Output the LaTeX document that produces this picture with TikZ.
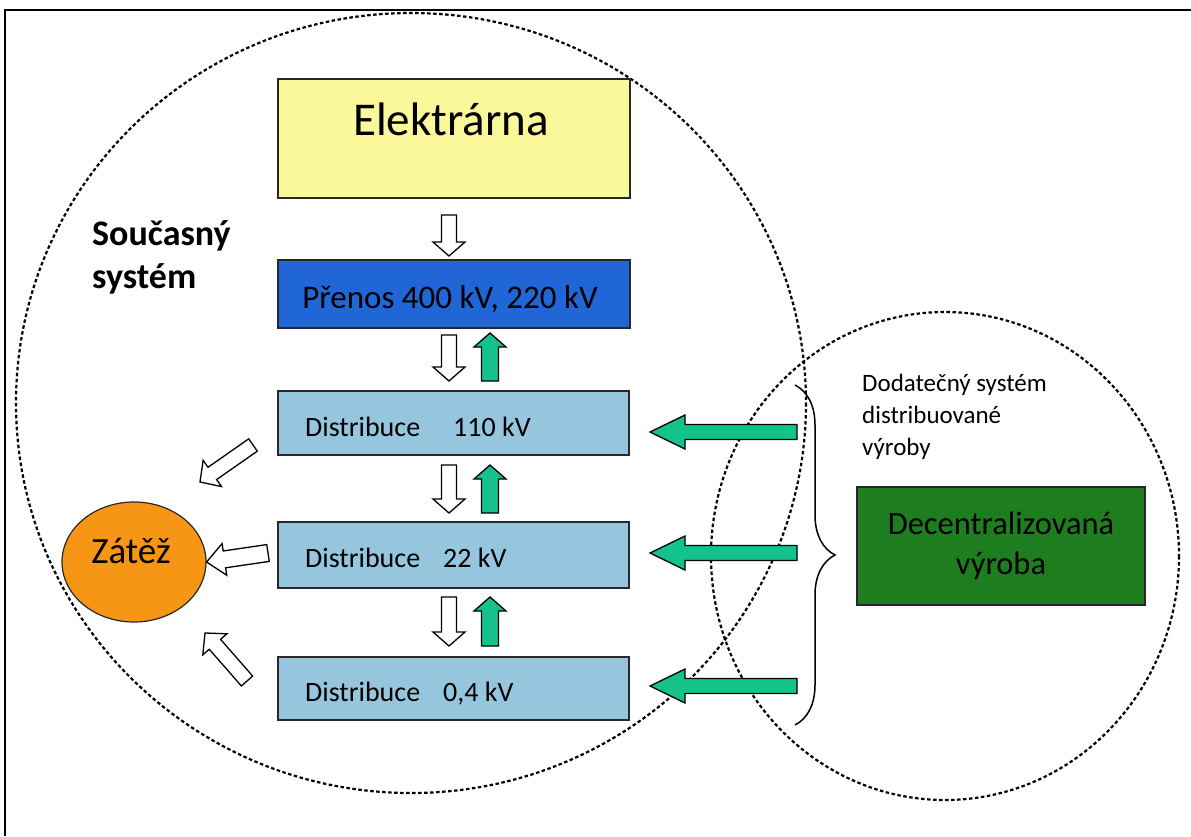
\documentclass[tikz,border=0pt]{standalone}
\usepackage{fontspec}
\setmainfont{Carlito}
\usetikzlibrary{calc,decorations.pathreplacing,shapes.geometric}
\definecolor{elyellow}{RGB}{250,248,155}
\definecolor{prblue}{RGB}{32,102,214}
\definecolor{diblue}{RGB}{150,198,222}
\definecolor{decgreen}{RGB}{30,125,30}
\definecolor{zorange}{RGB}{247,150,20}
\definecolor{agreen}{RGB}{20,195,140}
\definecolor{edge}{RGB}{40,40,40}
% block arrow: style, from, to, shaft half width, head half width, head length
\newcommand\blockarrow[6]{%
  \coordinate (neck) at ($(#3)!#6!(#2)$);
  \draw[#1] ($(#2)!#4!90:(#3)$) -- ($(neck)!#4!-90:(#2)$) -- ($(neck)!#5!-90:(#2)$) -- (#3)
    -- ($(neck)!#5!90:(#2)$) -- ($(neck)!#4!90:(#2)$) -- ($(#2)!#4!-90:(#3)$) -- cycle;}
\begin{document}
\begin{tikzpicture}[x=1pt,y=-1pt,
  box/.style={draw=edge,line width=1.3pt,inner sep=0pt},
  circ/.style={draw=black,line width=2.2pt,dash pattern=on 3.5pt off 2.5pt},
  warr/.style={draw=black,fill=white,line width=1.3pt,line join=miter},
  garr/.style={draw=black,fill=agreen,line width=1.3pt,line join=miter},
  lbl/.style={inner sep=0pt,anchor=base west}]
\useasboundingbox (0,0) rectangle (1191,836);
\fill[white] (0,0) rectangle (1191,836);
% frame
\draw[line width=2pt] (5,836) -- (5,10) -- (1191,10);
% system circles
\path[circ] (411,403) ellipse [x radius=395, y radius=390];
\path[circ] (945,556) ellipse [x radius=234, y radius=244];
% boxes
\node[box,fill=elyellow,minimum width=352pt,minimum height=119pt] (el) at (454,138.5) {};
\node[box,fill=prblue,minimum width=352pt,minimum height=68pt] (pr) at (454,294) {};
\node[box,fill=diblue,minimum width=351pt,minimum height=64pt] (d110) at (453.5,423) {};
\node[box,fill=diblue,minimum width=351pt,minimum height=66pt] (d22) at (453.5,555) {};
\node[box,fill=diblue,minimum width=351pt,minimum height=63pt] (d04) at (453.5,688.5) {};
\node[box,fill=decgreen,minimum width=288pt,minimum height=118pt] (dec) at (1001,546) {};
\node[draw=edge,line width=1.2pt,fill=zorange,ellipse,minimum width=144pt,minimum height=120pt,inner sep=0pt] (zat) at (134,562) {};
% texts
\node[inner sep=0pt,anchor=base] (elt) at (451,135) {\fontsize{47}{52}\selectfont Elektrárna};
\node[inner sep=0pt,anchor=base] (prt) at (450,308) {\fontsize{33}{38}\selectfont Přenos 400 kV, 220 kV};
\node[lbl] (d110a) at (305,436) {\fontsize{28}{32}\selectfont Distribuce};
\node[lbl] (d110b) at (453,436) {\fontsize{28}{32}\selectfont 110 kV};
\node[lbl] (d22a) at (305,567) {\fontsize{28}{32}\selectfont Distribuce};
\node[lbl] (d22b) at (443,567) {\fontsize{28}{32}\selectfont 22 kV};
\node[lbl] (d04a) at (305,701) {\fontsize{28}{32}\selectfont Distribuce};
\node[lbl] (d04b) at (443,701) {\fontsize{28}{32}\selectfont 0,4 kV};
\node[inner sep=0pt,anchor=base] (zatt) at (131,563) {\fontsize{37}{42}\selectfont Zátěž};
\node[inner sep=0pt,anchor=base] (dect1) at (1001,534) {\fontsize{32.5}{38}\selectfont Decentralizovaná};
\node[inner sep=0pt,anchor=base] (dect2) at (1001,574) {\fontsize{32.5}{38}\selectfont výroba};
\node[lbl] (dod1) at (862,391) {\fontsize{25}{32}\selectfont Dodatečný systém};
\node[lbl] (dod2) at (862,423) {\fontsize{25}{32}\selectfont distribuované};
\node[lbl] (dod3) at (862,455) {\fontsize{25}{32}\selectfont výroby};
\node[lbl] (sou1) at (92,245) {\fontsize{36}{40}\selectfont\bfseries Současný};
\node[lbl] (sou2) at (92,288) {\fontsize{36}{40}\selectfont\bfseries systém};
% brace
\coordinate (bt) at (795,385);
\coordinate (bb) at (795,725);
\draw[line width=1.5pt,decorate,decoration={brace,amplitude=40pt,aspect=0.5}] (bt) -- (bb);
% vertical arrows
\coordinate (w1s) at (449,215); \coordinate (w1e) at (449,256);
\coordinate (w2s) at (449,335); \coordinate (w2e) at (449,381);
\coordinate (g2s) at (490,381); \coordinate (g2e) at (490,333);
\coordinate (w3s) at (449,465); \coordinate (w3e) at (449,513);
\coordinate (g3s) at (490,513); \coordinate (g3e) at (490,465);
\coordinate (w4s) at (449,597); \coordinate (w4e) at (449,646);
\coordinate (g4s) at (490,646); \coordinate (g4e) at (490,597);
\blockarrow{warr}{w1s}{w1e}{7.5pt}{16pt}{14pt}
\blockarrow{warr}{w2s}{w2e}{7.5pt}{16pt}{14pt}
\blockarrow{garr}{g2s}{g2e}{8.5pt}{16pt}{14pt}
\blockarrow{warr}{w3s}{w3e}{7.5pt}{16pt}{14pt}
\blockarrow{garr}{g3s}{g3e}{8.5pt}{16pt}{14pt}
\blockarrow{warr}{w4s}{w4e}{7.5pt}{16pt}{14pt}
\blockarrow{garr}{g4s}{g4e}{8.5pt}{16pt}{14pt}
% arrows to load
\coordinate (l1s) at (253,445); \coordinate (l1e) at (200,482);
\coordinate (l2s) at (268,553); \coordinate (l2e) at (zat.east);
\coordinate (l3s) at (247,681); \coordinate (l3e) at (205,633);
\blockarrow{warr}{l1s}{l1e}{7.5pt}{16pt}{15pt}
\blockarrow{warr}{l2s}{l2e}{8.5pt}{16pt}{18pt}
\blockarrow{warr}{l3s}{l3e}{7.5pt}{16pt}{15pt}
% green arrows from decentralised generation
\coordinate (r1s) at (797,432); \coordinate (r1e) at (650,432);
\coordinate (r2s) at (797,553); \coordinate (r2e) at (650,553);
\coordinate (r3s) at (797,686); \coordinate (r3e) at (650,686);
\blockarrow{garr}{r1s}{r1e}{7.5pt}{17pt}{35pt}
\blockarrow{garr}{r2s}{r2e}{7.5pt}{17pt}{35pt}
\blockarrow{garr}{r3s}{r3e}{7.5pt}{17pt}{35pt}
\end{tikzpicture}
\end{document}
